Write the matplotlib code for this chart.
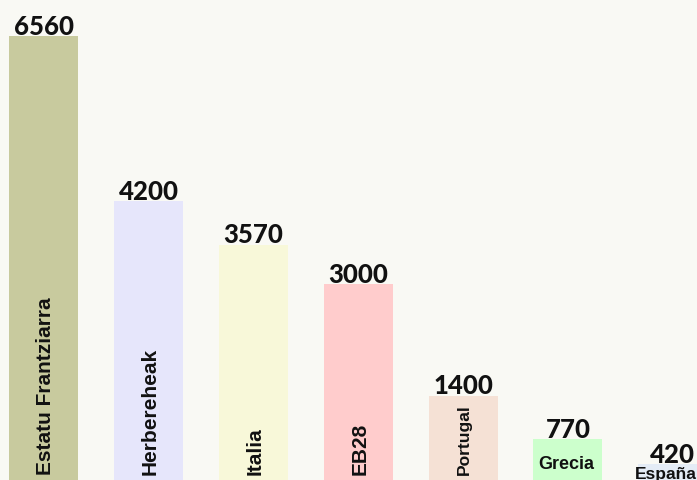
import matplotlib
matplotlib.use('Agg')
import matplotlib.pyplot as plt

# data
labels = ['Estatu Frantziarra', 'Herbereheak', 'Italia', 'EB28', 'Portugal', 'Grecia', 'España']
values = [6560, 4200, 3570, 3000, 1400, 770, 420]
colors = ['#c8ca9e', '#e6e6fb', '#f8f8d9', '#ffcccc', '#f5e1d5', '#ccffcc', '#e4ecf6']
vertical = [True, True, True, True, True, False, False]
label_sizes = [15, 15, 15, 15, 12.5, 13, 12.5]

BG = '#f9f9f4'

fig = plt.figure(figsize=(6.97, 4.81), dpi=100, facecolor=BG)
ax = fig.add_axes([0, 0, 1, 1])
ax.set_facecolor(BG)

x = list(range(len(values)))
ax.bar(x, values, width=0.658, color=colors, linewidth=0)

ax.set_xlim(-0.419, 6.232)
ax.set_ylim(187, 7098)
ax.axis('off')

# value labels on top of bars
for xi, v in zip(x, values):
    ax.annotate(f'{v}', xy=(xi, v), xytext=(0, 1.5), textcoords='offset points',
                ha='center', va='baseline', fontsize=18.5, fontweight='black',
                family='Lato', color='#111111')

# category labels near the bottom
trans = ax.get_xaxis_transform()
for xi, lab, vert, fs in zip(x, labels, vertical, label_sizes):
    if vert:
        ax.annotate(lab, xy=(xi, 0), xycoords=trans, xytext=(1, 4.5),
                    textcoords='offset points', rotation=90,
                    ha='center', va='bottom', fontsize=fs, fontweight='bold',
                    family='Liberation Sans', color='#111111')
    elif lab == 'Grecia':
        ax.annotate(lab, xy=(xi, 0), xycoords=trans, xytext=(-1.5, 8.6),
                    textcoords='offset points',
                    ha='center', va='baseline', fontsize=fs, fontweight='bold',
                    family='Liberation Sans', color='#111111')
    else:
        ax.annotate(lab, xy=(xi, 0), xycoords=trans, xytext=(-5, 1.5),
                    textcoords='offset points',
                    ha='center', va='baseline', fontsize=fs, fontweight='bold',
                    family='Liberation Sans', color='#111111')

fig.savefig('out.png', dpi=100, facecolor=BG)
